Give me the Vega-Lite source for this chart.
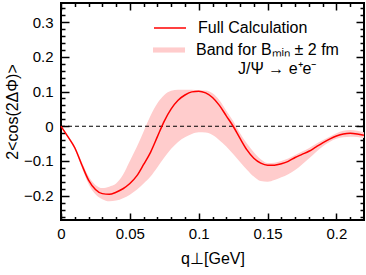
{
  "$schema": "https://vega.github.io/schema/vega-lite/v6.json",
  "width": 303,
  "height": 217,
  "autosize": {"type": "none"},
  "padding": {"left": 61, "top": 3, "right": 2, "bottom": 55},
  "background": "white",
  "config": {
    "view": {"stroke": "black", "strokeWidth": 2},
    "font": "Liberation Sans",
    "axis": {"domain": false, "grid": false, "tickColor": "black", "labelFont": "Liberation Sans", "titleFont": "Liberation Sans", "labelColor": "black", "titleColor": "black", "labelFontSize": 15, "titleFontSize": 16, "titleFontWeight": "normal", "labelFlush": false, "labelOverlap": false},
    "legend": {"labelFont": "Liberation Sans", "labelFontSize": 16, "labelColor": "black", "padding": 0}
  },
  "datasets": {
    "curve": [
      {"q": 0, "v": 0, "lo": 0, "hi": 0},
      {"q": 0.005, "v": -0.03, "lo": -0.033, "hi": -0.027},
      {"q": 0.01, "v": -0.062, "lo": -0.067, "hi": -0.057},
      {"q": 0.015, "v": -0.11, "lo": -0.118, "hi": -0.102},
      {"q": 0.02, "v": -0.155, "lo": -0.166, "hi": -0.144},
      {"q": 0.025, "v": -0.182, "lo": -0.196, "hi": -0.169},
      {"q": 0.03, "v": -0.194, "lo": -0.21, "hi": -0.178},
      {"q": 0.035, "v": -0.196, "lo": -0.216, "hi": -0.174},
      {"q": 0.04, "v": -0.19, "lo": -0.214, "hi": -0.165},
      {"q": 0.045, "v": -0.18, "lo": -0.207, "hi": -0.14},
      {"q": 0.05, "v": -0.165, "lo": -0.197, "hi": -0.1},
      {"q": 0.055, "v": -0.143, "lo": -0.183, "hi": -0.06},
      {"q": 0.06, "v": -0.11, "lo": -0.165, "hi": -0.015},
      {"q": 0.065, "v": -0.075, "lo": -0.145, "hi": 0.03},
      {"q": 0.07, "v": -0.03, "lo": -0.118, "hi": 0.066},
      {"q": 0.075, "v": 0.015, "lo": -0.09, "hi": 0.09},
      {"q": 0.08, "v": 0.05, "lo": -0.065, "hi": 0.102},
      {"q": 0.085, "v": 0.075, "lo": -0.045, "hi": 0.105},
      {"q": 0.09, "v": 0.09, "lo": -0.032, "hi": 0.105},
      {"q": 0.095, "v": 0.099, "lo": -0.022, "hi": 0.105},
      {"q": 0.1, "v": 0.101, "lo": -0.017, "hi": 0.104},
      {"q": 0.105, "v": 0.096, "lo": -0.018, "hi": 0.103},
      {"q": 0.11, "v": 0.083, "lo": -0.025, "hi": 0.095},
      {"q": 0.115, "v": 0.06, "lo": -0.04, "hi": 0.075},
      {"q": 0.12, "v": 0.03, "lo": -0.058, "hi": 0.045},
      {"q": 0.125, "v": 0.0, "lo": -0.08, "hi": 0.015},
      {"q": 0.13, "v": -0.035, "lo": -0.103, "hi": -0.02},
      {"q": 0.135, "v": -0.068, "lo": -0.125, "hi": -0.05},
      {"q": 0.14, "v": -0.092, "lo": -0.145, "hi": -0.075},
      {"q": 0.145, "v": -0.106, "lo": -0.158, "hi": -0.095},
      {"q": 0.15, "v": -0.112, "lo": -0.16, "hi": -0.106},
      {"q": 0.155, "v": -0.112, "lo": -0.155, "hi": -0.105},
      {"q": 0.16, "v": -0.108, "lo": -0.147, "hi": -0.1},
      {"q": 0.165, "v": -0.101, "lo": -0.138, "hi": -0.093},
      {"q": 0.17, "v": -0.09, "lo": -0.126, "hi": -0.083},
      {"q": 0.175, "v": -0.081, "lo": -0.11, "hi": -0.073},
      {"q": 0.18, "v": -0.072, "lo": -0.093, "hi": -0.063},
      {"q": 0.185, "v": -0.06, "lo": -0.075, "hi": -0.051},
      {"q": 0.19, "v": -0.048, "lo": -0.058, "hi": -0.04},
      {"q": 0.195, "v": -0.037, "lo": -0.045, "hi": -0.03},
      {"q": 0.2, "v": -0.028, "lo": -0.036, "hi": -0.02},
      {"q": 0.205, "v": -0.022, "lo": -0.032, "hi": -0.013},
      {"q": 0.21, "v": -0.02, "lo": -0.03, "hi": -0.011},
      {"q": 0.215, "v": -0.022, "lo": -0.031, "hi": -0.013},
      {"q": 0.22, "v": -0.026, "lo": -0.034, "hi": -0.017}
    ],
    "zero": [{"z": 0, "from": 0, "to": 0.22}],
    "note": [{"label": "J/Ψ → e⁺e⁻", "q": 0.1285, "y": 0.166}]
  },
  "resolve": {"axis": {"x": "independent", "y": "independent"}},
  "layer": [
    {
      "data": {"name": "curve"},
      "mark": {"type": "area", "opacity": 1, "interpolate": "monotone"},
      "encoding": {
        "x": {"field": "q", "type": "quantitative", "scale": {"domain": [0, 0.22], "nice": false, "zero": false},
          "axis": {"orient": "bottom", "values": [0, 0.05, 0.1, 0.15, 0.2], "format": ".2~f", "tickSize": -7, "tickWidth": 1.5, "labelPadding": 13, "title": "q⊥[GeV]", "titlePadding": 9}},
        "y": {"field": "lo", "type": "quantitative", "scale": {"domain": [-0.27, 0.355], "nice": false, "zero": false},
          "axis": {"orient": "left", "values": [-0.2, -0.1, 0, 0.1, 0.2, 0.3], "format": ".1~f", "tickSize": -8, "tickWidth": 1.5, "labelPadding": 16, "title": "2<cos(2ΔΦ)>", "titlePadding": 3}},
        "y2": {"field": "hi"},
        "fill": {"datum": "Band for Bₘᵢₙ ± 2 fm", "type": "nominal", "scale": {"range": ["#ffcccc"]},
          "legend": {"orient": "none", "legendX": 92, "legendY": 31, "title": null, "symbolType": "M-1,-0.16H1V0.16H-1Z", "symbolSize": 1024, "symbolStrokeWidth": 0, "labelOffset": 11}}
      }
    },
    {
      "data": {"name": "zero"},
      "mark": {"type": "rule", "color": "black", "strokeWidth": 1, "strokeDash": [4, 3]},
      "encoding": {
        "x": {"field": "from", "type": "quantitative", "scale": {"domain": [0, 0.22], "nice": false, "zero": false},
          "axis": {"orient": "bottom", "values": [0.01, 0.02, 0.03, 0.04, 0.06, 0.07, 0.08, 0.09, 0.11, 0.12, 0.13, 0.14, 0.16, 0.17, 0.18, 0.19, 0.21], "tickSize": -3.5, "tickWidth": 1.5, "labels": false, "title": null}},
        "x2": {"field": "to"},
        "y": {"field": "z", "type": "quantitative", "scale": {"domain": [-0.27, 0.355], "nice": false, "zero": false},
          "axis": {"orient": "left", "values": [-0.26, -0.24, -0.22, -0.18, -0.16, -0.14, -0.12, -0.08, -0.06, -0.04, -0.02, 0.02, 0.04, 0.06, 0.08, 0.12, 0.14, 0.16, 0.18, 0.22, 0.24, 0.26, 0.28, 0.32, 0.34], "tickSize": -4, "tickWidth": 1.5, "labels": false, "title": null}}
      }
    },
    {
      "data": {"name": "curve"},
      "mark": {"type": "line", "strokeWidth": 1.5, "interpolate": "monotone"},
      "encoding": {
        "x": {"field": "q", "type": "quantitative", "scale": {"domain": [0, 0.22], "nice": false, "zero": false},
          "axis": {"orient": "top", "values": [0, 0.05, 0.1, 0.15, 0.2], "tickSize": -7, "tickWidth": 1.5, "labels": false, "title": null}},
        "y": {"field": "v", "type": "quantitative", "scale": {"domain": [-0.27, 0.355], "nice": false, "zero": false},
          "axis": {"orient": "right", "values": [-0.2, -0.1, 0, 0.1, 0.2, 0.3], "tickSize": -8, "tickWidth": 1.5, "labels": false, "title": null}},
        "stroke": {"datum": "Full Calculation", "type": "nominal", "scale": {"range": ["#ff0000"]},
          "legend": {"orient": "none", "legendX": 92, "legendY": 8, "title": null, "symbolType": "stroke", "symbolSize": 1024, "symbolStrokeWidth": 1.5, "labelOffset": 11}}
      }
    },
    {
      "data": {"name": "note"},
      "mark": {"type": "text", "align": "left", "baseline": "middle", "fontSize": 16, "font": "Liberation Sans", "color": "black"},
      "encoding": {
        "x": {"field": "q", "type": "quantitative", "scale": {"domain": [0, 0.22], "nice": false, "zero": false},
          "axis": {"orient": "top", "values": [0.01, 0.02, 0.03, 0.04, 0.06, 0.07, 0.08, 0.09, 0.11, 0.12, 0.13, 0.14, 0.16, 0.17, 0.18, 0.19, 0.21], "tickSize": -3.5, "tickWidth": 1.5, "labels": false, "title": null}},
        "y": {"field": "y", "type": "quantitative", "scale": {"domain": [-0.27, 0.355], "nice": false, "zero": false},
          "axis": {"orient": "right", "values": [-0.26, -0.24, -0.22, -0.18, -0.16, -0.14, -0.12, -0.08, -0.06, -0.04, -0.02, 0.02, 0.04, 0.06, 0.08, 0.12, 0.14, 0.16, 0.18, 0.22, 0.24, 0.26, 0.28, 0.32, 0.34], "tickSize": -4, "tickWidth": 1.5, "labels": false, "title": null}},
        "text": {"field": "label"}
      }
    }
  ]
}
